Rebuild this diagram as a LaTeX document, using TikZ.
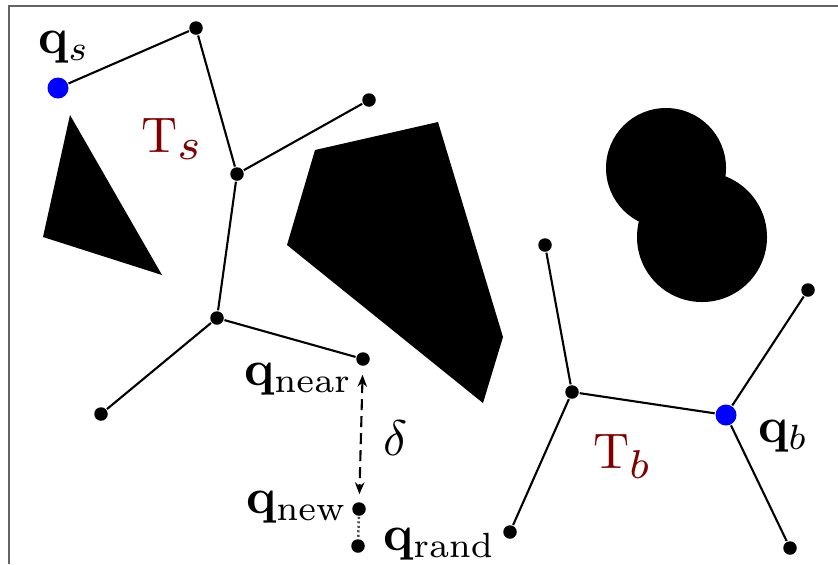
\documentclass[tikz,border=0pt]{standalone}
\usepackage{amsmath}
\usepackage{graphicx}
\usetikzlibrary{arrows.meta}
\definecolor{treered}{RGB}{128,0,0}
\definecolor{framegray}{RGB}{100,100,100}
\begin{document}
\begin{tikzpicture}[x=0.2pt,y=-0.2pt,
  vtx/.style={circle,fill=black,inner sep=0pt,minimum size=2.7pt},
  root/.style={circle,fill=blue,inner sep=0pt,minimum size=4.2pt},
  edge/.style={line width=0.42pt},
  obst/.style={fill=black},
  lbl/.style={inner sep=0pt,anchor=base west},
  tlbl/.style={lbl,text=treered}]
\useasboundingbox (0,0) rectangle (838,564);
% frame
\draw[framegray,line width=0.55pt] (9,564) -- (9,6) -- (838,6);
% obstacles
\fill[obst] (70,115) -- (43,237) -- (162,275) -- cycle;
\fill[obst] (315,150) -- (438,122) -- (503,337) -- (483,403) -- (287,245) -- cycle;
\fill[obst] (666,168) circle (12pt);
\fill[obst] (702,237) circle (13pt);
% tree T_s
\node[root] (qs) at (58,88) {};
\node[vtx] (s1) at (196,28) {};
\node[vtx] (s2) at (237,174) {};
\node[vtx] (s3) at (369,100) {};
\node[vtx] (s4) at (217,318) {};
\node[vtx] (qnear) at (363,359) {};
\node[vtx] (s6) at (101,414) {};
\node[vtx] (qnew) at (359,509) {};
\node[vtx] (qrand) at (358,546) {};
\draw[edge] (qs) -- (s1);
\draw[edge] (s1) -- (s2);
\draw[edge] (s2) -- (s3);
\draw[edge] (s2) -- (s4);
\draw[edge] (s4) -- (qnear);
\draw[edge] (s4) -- (s6);
\draw[line width=0.42pt,dash pattern=on 2.2pt off 1.2pt,
  {Stealth[length=2.4pt,width=1.9pt]}-{Stealth[length=2.4pt,width=1.9pt]},
  shorten <=1.6pt, shorten >=1.4pt] (qnear) -- (qnew);
\draw[black!70,line width=0.5pt,dash pattern=on 0.4pt off 0.5pt] (qnew) -- (qrand);
% tree T_b
\node[root] (qb) at (726,415) {};
\node[vtx] (b1) at (545,245) {};
\node[vtx] (b2) at (572,392) {};
\node[vtx] (b3) at (808,290) {};
\node[vtx] (b4) at (790,548) {};
\node[vtx] (b5) at (510,532) {};
\draw[edge] (b1) -- (b2);
\draw[edge] (b2) -- (qb);
\draw[edge] (b2) -- (b5);
\draw[edge] (qb) -- (b3);
\draw[edge] (qb) -- (b4);
% labels
\node[lbl] (lqs) at (37,53) {$\mathbf{q}_s$};
\node[tlbl] (lTs) at (140,152) {$\mathrm{T}_{\scalebox{1.25}{$\scriptstyle s$}}$};
\node[lbl] (lqnear) at (243,385) {$\mathbf{q}_{\mathrm{near}}$};
\node[lbl] (ldelta) at (382,455) {$\delta$};
\node[lbl] (lqnew) at (245,513) {$\mathbf{q}_{\mathrm{new}}$};
\node[lbl] (lqrand) at (382,550) {$\mathbf{q}_{\mathrm{rand}}$};
\node[lbl] (lqb) at (757,442) {$\mathbf{q}_b$};
\node[tlbl] (lTb) at (592,468) {$\mathrm{T}_{\scalebox{1.15}{$\scriptstyle b$}}$};
\end{tikzpicture}
\end{document}
